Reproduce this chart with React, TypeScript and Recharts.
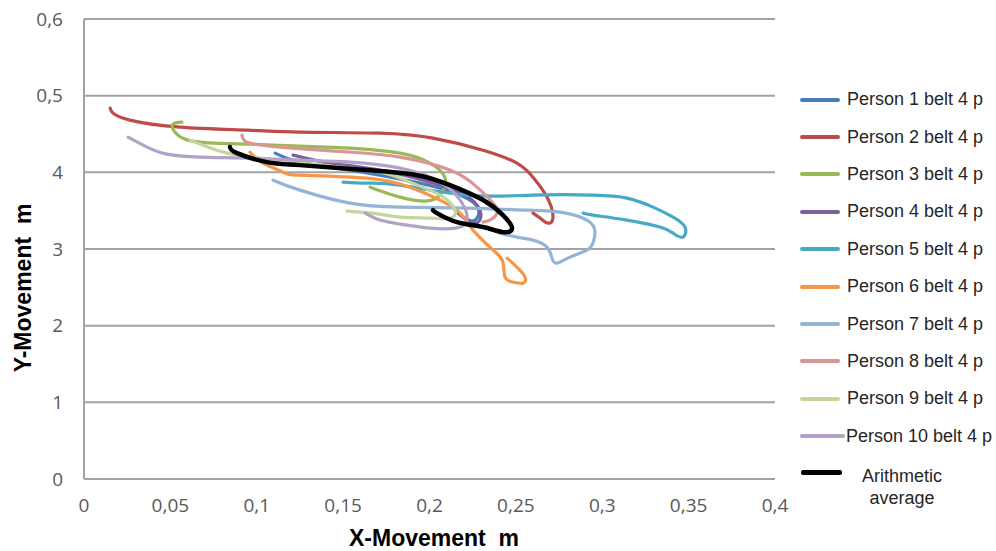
import React from 'react';
import { LineChart, Line, XAxis, YAxis, CartesianGrid, Legend, Label } from 'recharts';

type Pt = [number, number];

// traced trajectories, [x, y] in metres
const person1: Pt[] = [
  [0.1106, 0.425], [0.125, 0.4133], [0.154, 0.4029], [0.1945, 0.3859], [0.2177, 0.3703],
  [0.2281, 0.3533], [0.2263, 0.3377], [0.2205, 0.3403], [0.2148, 0.3507],
];
const person2: Pt[] = [
  [0.0151, 0.4837], [0.0168, 0.4772], [0.0266, 0.4681], [0.0556, 0.4589], [0.0944, 0.455],
  [0.125, 0.4524], [0.1713, 0.4511], [0.202, 0.4446], [0.231, 0.4289], [0.2506, 0.412],
  [0.2599, 0.3937], [0.268, 0.3677], [0.2715, 0.3416], [0.2686, 0.3338], [0.264, 0.3403],
  [0.2599, 0.3468],
];
const person3: Pt[] = [
  [0.0567, 0.4655], [0.0515, 0.4628], [0.0527, 0.4524], [0.0602, 0.442], [0.0747, 0.4381],
  [0.0961, 0.4368], [0.125, 0.4342], [0.154, 0.4316], [0.1829, 0.425], [0.2003, 0.412],
  [0.209, 0.3924], [0.2061, 0.3703], [0.1974, 0.3625], [0.1829, 0.3677], [0.1656, 0.3807],
];
const person4: Pt[] = [
  [0.121, 0.4224], [0.1424, 0.412], [0.1713, 0.4029], [0.2003, 0.3872], [0.2205, 0.3703],
  [0.2292, 0.3507], [0.2281, 0.3351], [0.2217, 0.3377], [0.2159, 0.3481],
];
const person5: Pt[] = [
  [0.1499, 0.3872], [0.1638, 0.3859], [0.1829, 0.3833], [0.2217, 0.3703], [0.2599, 0.3703],
  [0.2946, 0.3703], [0.3143, 0.3664], [0.3294, 0.3546], [0.341, 0.3416], [0.3479, 0.3286],
  [0.3467, 0.3155], [0.341, 0.3207], [0.3334, 0.3286], [0.3143, 0.3377], [0.2946, 0.3442],
  [0.2889, 0.3468],
];
const person6: Pt[] = [
  [0.0961, 0.4263], [0.1036, 0.412], [0.1152, 0.4003], [0.125, 0.3963], [0.1638, 0.3924],
  [0.1887, 0.3807], [0.2061, 0.3638], [0.2177, 0.3468], [0.2252, 0.3246], [0.2368, 0.2986],
  [0.2425, 0.2829], [0.2437, 0.2634], [0.2483, 0.2568], [0.2541, 0.2555], [0.2553, 0.2634],
  [0.2506, 0.2764], [0.2449, 0.2881],
];
const person7: Pt[] = [
  [0.1094, 0.3898], [0.125, 0.3768], [0.154, 0.3598], [0.1829, 0.3546], [0.2217, 0.3533],
  [0.2564, 0.3507], [0.2755, 0.3481], [0.2912, 0.3377], [0.2958, 0.322], [0.2946, 0.3077],
  [0.2912, 0.2986], [0.2813, 0.2894], [0.2738, 0.2816], [0.2709, 0.2881], [0.268, 0.3025],
  [0.2599, 0.3116], [0.2506, 0.3155], [0.2408, 0.3207],
];
const person8: Pt[] = [
  [0.0915, 0.4485], [0.0944, 0.4394], [0.1135, 0.4329], [0.154, 0.4263], [0.1829, 0.4198],
  [0.2119, 0.4029], [0.2275, 0.3807], [0.2368, 0.3598], [0.2391, 0.3468], [0.235, 0.3377],
  [0.231, 0.3351],
];
const person9: Pt[] = [
  [0.0614, 0.442], [0.0701, 0.4342], [0.0828, 0.425], [0.1019, 0.4185], [0.1366, 0.4094],
  [0.1713, 0.4003], [0.1887, 0.3872], [0.2061, 0.3703], [0.2148, 0.3507], [0.2119, 0.3403],
  [0.2003, 0.3403], [0.1829, 0.3416], [0.1713, 0.3455], [0.1598, 0.3481], [0.1522, 0.3494],
];
const person10: Pt[] = [
  [0.0255, 0.4459], [0.0365, 0.4329], [0.048, 0.4237], [0.0671, 0.4198], [0.0961, 0.4185],
  [0.125, 0.4159], [0.154, 0.4133], [0.1829, 0.4055], [0.2061, 0.3872], [0.2177, 0.3638],
  [0.2217, 0.3442], [0.2177, 0.3286], [0.2003, 0.3272], [0.1829, 0.3325], [0.1713, 0.3377],
  [0.1627, 0.3468],
];
const average: Pt[] = [
  [0.0845, 0.4329], [0.0886, 0.425], [0.1059, 0.4133], [0.125, 0.4094], [0.1638, 0.4029],
  [0.1928, 0.3963], [0.2119, 0.3833], [0.231, 0.3638], [0.2425, 0.3442], [0.2478, 0.3272],
  [0.2425, 0.322], [0.231, 0.3286], [0.2159, 0.3351], [0.2043, 0.3468], [0.202, 0.3507],
];

const seriesNames = [
  'Person 1 belt 4 p', 'Person 2 belt 4 p', 'Person 3 belt 4 p', 'Person 4 belt 4 p',
  'Person 5 belt 4 p', 'Person 6 belt 4 p', 'Person 7 belt 4 p', 'Person 8 belt 4 p',
  'Person 9 belt 4 p', 'Person 10 belt 4 p', 'Arithmetic average',
];
const seriesColors = [
  '#4A7EBB', '#BE4B48', '#98B954', '#7D60A0', '#46AAC5', '#F79646',
  '#95B3D7', '#D99694', '#C3D69B', '#B3A2C7', '#000000',
];
const seriesPoints = [
  person1, person2, person3, person4, person5, person6,
  person7, person8, person9, person10, average,
];

const xTicks = [0, 0.05, 0.1, 0.15, 0.2, 0.25, 0.3, 0.35, 0.4];
const yTicks = [0, 0.1, 0.2, 0.3, 0.4, 0.5, 0.6];
const yTickLabels = ['0', '1', '2', '3', '4', '0,5', '0,6'];

const GRID = '#a3a3a3';
const tickStyle = { fontSize: 19, fill: '#595959', fontFamily: 'Open Sans' };

function ChartLegend() {
  return (
    <div style={{ position: 'relative', fontFamily: 'Liberation Sans, Arial', fontSize: 18, color: '#262626' }}>
      {seriesNames.slice(0, 10).map((name, i) => (
        <div
          key={name}
          style={{ position: 'absolute', left: 0, top: i * 37.4, height: 37.4, display: 'flex', alignItems: 'center', whiteSpace: 'nowrap' }}
        >
          <div style={{ width: i === 9 ? 45 : 40, height: 4, marginLeft: 10, background: seriesColors[i], borderRadius: 2 }} />
          <span style={{ marginLeft: i === 9 ? 1 : 7 }}>{name}</span>
        </div>
      ))}
      <div style={{ position: 'absolute', left: 0, top: 10 * 37.4 + 10, display: 'flex', alignItems: 'flex-start' }}>
        <div style={{ width: 41, height: 5, marginLeft: 11, marginTop: 5, background: '#000', borderRadius: 2 }} />
        <div style={{ marginLeft: 14, width: 92, textAlign: 'center', lineHeight: '22px' }}>
          Arithmetic
          <br />
          average
        </div>
      </div>
    </div>
  );
}

export default function App() {
  return (
    <>
      <style>{'body{margin:0}'}</style>
      <LineChart width={996} height={551} margin={{ top: 19, right: 21, bottom: 0, left: 0 }}>
        <CartesianGrid vertical={false} stroke={GRID} strokeWidth={2} />
        <XAxis
          type="number"
          dataKey="x"
          domain={[0, 0.4]}
          ticks={xTicks}
          allowDataOverflow
          height={72}
          tickLine={false}
          tickMargin={14}
          axisLine={{ stroke: GRID, strokeWidth: 2 }}
          tick={tickStyle}
          tickFormatter={(v: number) => String(v).replace('.', ',')}
        >
          <Label
            content={() => (
              <text x={434} y={546} textAnchor="middle" fontSize={23} fontWeight="bold" fontFamily="Liberation Sans, Arial" fill="#000" style={{ whiteSpace: 'pre' }}>
                {'X-Movement  m'}
              </text>
            )}
          />
        </XAxis>
        <YAxis
          type="number"
          dataKey="y"
          domain={[0, 0.6]}
          ticks={yTicks}
          allowDataOverflow
          width={84}
          tickLine={false}
          tickMargin={15}
          axisLine={{ stroke: GRID, strokeWidth: 2 }}
          tick={tickStyle}
          tickFormatter={(v: number) => yTickLabels[yTicks.indexOf(v)] ?? String(v)}
        >
          <Label
            content={() => (
              <text x={0} y={0} transform="translate(31 288) rotate(-90)" textAnchor="middle" fontSize={23} fontWeight="bold" fontFamily="Liberation Sans, Arial" fill="#000" style={{ whiteSpace: 'pre' }}>
                {'Y-Movement  m'}
              </text>
            )}
          />
        </YAxis>
        <Legend
          layout="vertical"
          align="right"
          verticalAlign="top"
          wrapperStyle={{ left: 790, top: 81, width: 200, height: 440 }}
          content={() => <ChartLegend />}
        />
        {seriesPoints.map((pts, i) => (
          <Line
            key={seriesNames[i]}
            name={seriesNames[i]}
            data={pts.map(([x, y]) => ({ x, y }))}
            dataKey="y"
            type="natural"
            stroke={seriesColors[i]}
            strokeWidth={i === 10 ? 4.5 : 3.2}
            strokeLinecap="round"
            strokeLinejoin="round"
            dot={false}
            activeDot={false}
            isAnimationActive={false}
          />
        ))}
      </LineChart>
    </>
  );
}
